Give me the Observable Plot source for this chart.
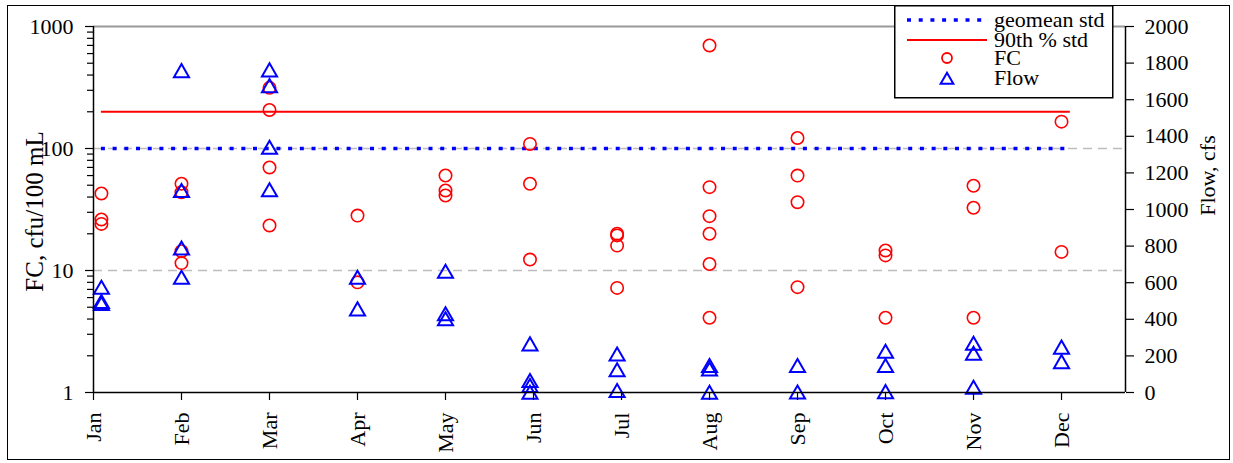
<!DOCTYPE html>
<html><head><meta charset="utf-8">
<script src="https://cdn.jsdelivr.net/npm/d3@7"></script>
<script src="https://cdn.jsdelivr.net/npm/@observablehq/plot@0.6"></script>
<style>
body{margin:0;background:#fff;}
#wrap{position:relative;width:1233px;height:463px;overflow:hidden;font-family:'Liberation Serif',serif;}
#chart svg{display:block;}
#border{position:absolute;left:7px;top:5px;width:1223px;height:455px;border:1.5px solid #000;box-sizing:border-box;pointer-events:none;}
#legend{position:absolute;left:894px;top:5px;}
</style></head><body>
<div id="wrap"><div id="chart"></div><div id="border"></div><svg id="legend" width="220" height="94"></svg></div>
<script>
// ---- data ----
const months = ["Jan","Feb","Mar","Apr","May","Jun","Jul","Aug","Sep","Oct","Nov","Dec"];
const samplePos = [0.09, 1, 2, 3, 4, 4.96, 5.95, 7, 8, 9, 10, 11];
const fcByMonth = [
  [42.8, 26.2, 24.1],
  [51.4, 43.8, 14.4, 11.5],
  [314, 207, 69.9, 23.4],
  [28.2, 8.0],
  [60.1, 45.3, 41.2],
  [109, 51.4, 12.3],
  [20, 19.4, 16, 7.2],
  [699, 48.2, 27.9, 20, 11.3, 4.1],
  [122, 60, 36.3, 7.3],
  [14.6, 13.3, 4.1],
  [49.5, 32.7, 4.1],
  [166, 14.2]
];
const flowByMonth = [
  [575, 497, 486],
  [1759, 1104, 790, 630],
  [1763, 1677, 1340, 1108],
  [630, 457],
  [663, 430, 403],
  [266, 66, 38, 2],
  [211, 124, 11],
  [148, 129, 2],
  [148, 3],
  [226, 148, 5],
  [269, 215, 29],
  [248, 169]
];
const geomeanStd = 100;
const pct90Std = 200;
const stdSpan = [0.09, 11.1];
const fcTicks = [1, 10, 100, 1000];
const fcMinorTicks = [2,3,4,5,6,7,8,9,20,30,40,50,60,70,80,90,200,300,400,500,600,700,800,900];
const flowTicks = [0,200,400,600,800,1000,1200,1400,1600,1800,2000];
const flowMax = 2000;
const xMax = 11.727;

// ---- build ----
const toY = f => Math.pow(10, 3 * f / flowMax);
const fcData = months.flatMap((m, i) => fcByMonth[i].map(v => ({x: samplePos[i], v})));
const flowData = months.flatMap((m, i) => flowByMonth[i].map(f => ({x: samplePos[i], v: toY(f)})));

const plot = Plot.plot({
  width: 1233, height: 463,
  marginLeft: 93, marginRight: 108, marginTop: 26, marginBottom: 71,
  style: {fontFamily: "'Liberation Serif', serif", fontSize: "22px", background: "transparent", color: "#000"},
  x: {domain: [0, xMax]},
  y: {type: "log", domain: [1, 1000]},
  marks: [
    Plot.ruleY([10, 100], {stroke: "#bdbdbd", strokeWidth: 1.3, strokeDasharray: "9,6"}),
    Plot.ruleY([1000], {stroke: "#999", strokeWidth: 2}),
    Plot.ruleY([pct90Std], {x1: () => stdSpan[0], x2: () => stdSpan[1], stroke: "#ff0000", strokeWidth: 2}),
    Plot.ruleY([geomeanStd], {x1: () => stdSpan[0], x2: () => stdSpan[1], stroke: "#0000ff", strokeWidth: 3.5, strokeDasharray: "4,7.7"}),
    Plot.dot(fcData, {x: "x", y: "v", r: 6.2, stroke: "#ff0000", strokeWidth: 1.6, fill: "none"}),
    Plot.dot(flowData, {x: "x", y: "v", symbol: "triangle", r: 5.6, stroke: "#0000ff", strokeWidth: 2, fill: "none", dy: 2.2}),
    Plot.ruleX([0, xMax], {stroke: "#000", strokeWidth: 1.5}),
    Plot.ruleY([1], {stroke: "#000", strokeWidth: 1.5}),
    Plot.axisY({ticks: fcMinorTicks, tickSize: 6, tickFormat: () => "", label: null, strokeWidth: 1.2}),
    Plot.axisY({ticks: fcTicks, tickSize: 8, tickPadding: 12, tickFormat: d => String(d), label: null, strokeWidth: 1.2}),
    Plot.axisY({anchor: "right", ticks: flowTicks.map(toY), tickSize: 8, tickFormat: () => "", label: null, strokeWidth: 1.2}),
    Plot.text(flowTicks, {y: f => toY(f), text: f => String(f), frameAnchor: "right", textAnchor: "start", dx: 19}),
    Plot.axisX({ticks: d3.range(months.length), tickSize: 8, tickPadding: 12, tickRotate: -90, tickFormat: i => months[i], label: null, strokeWidth: 1.2}),
    Plot.text(["FC, cfu/100 mL"], {text: d => d, frameAnchor: "left", textAnchor: "middle", rotate: -90, dx: -59, dy: 2, fontSize: 25}),
    Plot.text(["Flow, cfs"], {text: d => d, frameAnchor: "right", textAnchor: "middle", rotate: -90, dx: 82, dy: -34})
  ]
});
document.getElementById("chart").appendChild(plot);

// ---- legend ----
const lg = d3.select("#legend");
lg.append("rect").attr("x", 0.75).attr("y", 0.75).attr("width", 218).attr("height", 92)
  .attr("fill", "#fff").attr("stroke", "#000").attr("stroke-width", 1.5);
const rows = [
  {label: "geomean std", y: 15, kind: "dot"},
  {label: "90th % std", y: 35, kind: "line"},
  {label: "FC", y: 53, kind: "circle"},
  {label: "Flow", y: 73, kind: "tri"}
];
rows.forEach(r => {
  if (r.kind === "dot") lg.append("line").attr("x1", 13).attr("x2", 93).attr("y1", r.y).attr("y2", r.y)
    .attr("stroke", "#0000ff").attr("stroke-width", 3.5).attr("stroke-dasharray", "4,7.7");
  if (r.kind === "line") lg.append("line").attr("x1", 13).attr("x2", 93).attr("y1", r.y).attr("y2", r.y)
    .attr("stroke", "#ff0000").attr("stroke-width", 2);
  if (r.kind === "circle") lg.append("circle").attr("cx", 53).attr("cy", r.y).attr("r", 5)
    .attr("fill", "none").attr("stroke", "#ff0000").attr("stroke-width", 1.8);
  if (r.kind === "tri") lg.append("path").attr("d", d3.symbol(d3.symbolTriangle, 70)())
    .attr("transform", `translate(53,${r.y + 2})`)
    .attr("fill", "none").attr("stroke", "#0000ff").attr("stroke-width", 2);
  lg.append("text").attr("x", 100).attr("y", r.y).attr("dy", "0.32em")
    .attr("font-family", "'Liberation Serif', serif").attr("font-size", 22).text(r.label);
});
</script>
</body></html>
